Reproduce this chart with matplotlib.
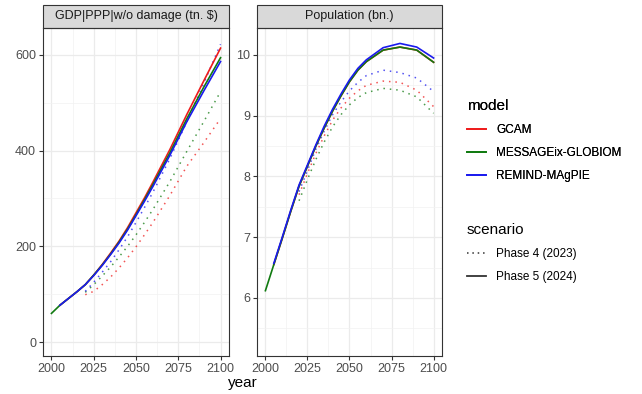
import matplotlib
matplotlib.use("Agg")
import matplotlib.pyplot as plt
from matplotlib.lines import Line2D
from matplotlib.ticker import MultipleLocator

plt.rcParams['font.family'] = ['Liberation Sans', 'DejaVu Sans']

# years of the model outputs
years_p5 = [2000, 2005, 2010, 2015, 2020, 2025, 2030, 2035, 2040, 2045, 2050, 2055, 2060, 2070, 2080, 2090, 2100]
years_p4 = [2020, 2025, 2030, 2035, 2040, 2045, 2050, 2055, 2060, 2070, 2080, 2090, 2100]

# GDP|PPP w/o damage (tn. $), phase 5 (2024)
gdp_gcam_p5 = [None, 77, 91, 105, 120, 140, 162, 186, 211, 239, 270, 301, 334, 402, 475, 545, 614]
gdp_message_p5 = [60, 77, 91, 105, 120, 140, 161, 184, 209, 236, 266, 297, 329, 395, 466, 532, 594]
gdp_remind_p5 = [None, 77, 91, 105, 120, 139, 160, 183, 207, 234, 264, 294, 325, 390, 460, 524, 586]
# phase 4 (2023)
gdp_gcam_p4 = [99, 106, 120, 136, 155, 176, 199, 224, 250, 306, 367, 416, 467]
gdp_message_p4 = [104, 120, 138, 157, 178, 200, 224, 250, 277, 335, 398, 460, 523]
gdp_remind_p4 = [106, 125, 146, 168, 193, 220, 250, 281, 313, 383, 460, 540, 622]

# Population (bn.), phase 5 (2024)
pop_gcam_p5 = [None, 6.55, 6.98, 7.42, 7.84, 8.17, 8.5, 8.8, 9.08, 9.33, 9.56, 9.75, 9.89, 10.08, 10.13, 10.08, 9.88]
pop_message_p5 = [6.12, 6.55, 6.98, 7.42, 7.84, 8.17, 8.5, 8.8, 9.08, 9.33, 9.56, 9.75, 9.89, 10.08, 10.13, 10.08, 9.88]
pop_remind_p5 = [None, 6.57, 7.0, 7.44, 7.86, 8.19, 8.52, 8.83, 9.11, 9.36, 9.59, 9.78, 9.92, 10.12, 10.19, 10.13, 9.95]
# phase 4 (2023)
pop_gcam_p4 = [7.7, 8.05, 8.38, 8.67, 8.93, 9.13, 9.29, 9.41, 9.5, 9.57, 9.55, 9.42, 9.15]
pop_message_p4 = [7.6, 7.95, 8.28, 8.57, 8.82, 9.02, 9.18, 9.3, 9.38, 9.45, 9.42, 9.31, 9.04]
pop_remind_p4 = [7.75, 8.1, 8.45, 8.75, 9.02, 9.23, 9.41, 9.55, 9.66, 9.75, 9.71, 9.62, 9.40]

models = ["GCAM", "MESSAGEix-GLOBIOM", "REMIND-MAgPIE"]
colors = ["#ee1c1c", "#107a10", "#1a1aee"]
scenarios = ["Phase 4 (2023)", "Phase 5 (2024)"]


def drop_none(xs, ys):
    pairs = [(x, y) for x, y in zip(xs, ys) if y is not None]
    return [p[0] for p in pairs], [p[1] for p in pairs]


def style_panel(ax, title, major, minor, ylim):
    ax.set_xlim(1995, 2105)
    ax.set_ylim(*ylim)
    ax.xaxis.set_major_locator(MultipleLocator(25))
    ax.xaxis.set_minor_locator(MultipleLocator(12.5))
    ax.yaxis.set_major_locator(MultipleLocator(major))
    ax.yaxis.set_minor_locator(MultipleLocator(minor))
    ax.grid(which="major", color="#ebebeb", lw=0.9)
    ax.grid(which="minor", color="#f2f2f2", lw=0.5)
    ax.set_axisbelow(True)
    for s in ax.spines.values():
        s.set_color("#333333")
        s.set_linewidth(0.8)
    ax.tick_params(which="major", length=3, width=0.8, color="#333333",
                   labelsize=9, labelcolor="#4d4d4d", pad=2)
    ax.tick_params(which="minor", length=0)
    # facet strip
    strip = plt.Rectangle((0, 1.0), 1, 0.07, transform=ax.transAxes, fc="#d9d9d9",
                          ec="#333333", lw=0.8, clip_on=False)
    ax.add_patch(strip)
    ax.text(0.5, 1.036, title, transform=ax.transAxes, ha="center", va="center",
            fontsize=9, color="#1a1a1a")


fig = plt.figure(figsize=(6.42, 3.94), dpi=100)
ax1 = fig.add_axes([43 / 642, 1 - 356 / 394, 186 / 642, 328 / 394])
ax2 = fig.add_axes([257 / 642, 1 - 356 / 394, 185 / 642, 328 / 394])

gdp_p5 = [gdp_gcam_p5, gdp_message_p5, gdp_remind_p5]
gdp_p4 = [gdp_gcam_p4, gdp_message_p4, gdp_remind_p4]
pop_p5 = [pop_gcam_p5, pop_message_p5, pop_remind_p5]
pop_p4 = [pop_gcam_p4, pop_message_p4, pop_remind_p4]

for i, c in enumerate(colors):
    ax1.plot(years_p4, gdp_p4[i], color=c, lw=1.1, ls=(0, (1, 3.2)), alpha=0.75)
    ax2.plot(years_p4, pop_p4[i], color=c, lw=1.1, ls=(0, (1, 3.2)), alpha=0.75)
for i, c in enumerate(colors):
    x, y = drop_none(years_p5, gdp_p5[i])
    ax1.plot(x, y, color=c, lw=1.2)
    x, y = drop_none(years_p5, pop_p5[i])
    ax2.plot(x, y, color=c, lw=1.2)

style_panel(ax1, "GDP|PPP|w/o damage (tn. $)", 200, 100, (-29, 656))
style_panel(ax2, "Population (bn.)", 1, 0.5, (5.045, 10.444))

fig.text(242.5 / 642, 1 - 383 / 394, "year", ha="center", va="center", fontsize=11)

# legends
h_model = [Line2D([], [], color=c, lw=1.3) for c in colors]
leg1 = fig.legend(h_model, models, title="model", loc="upper left",
                  bbox_to_anchor=(456 / 642, 1 - 88 / 394), frameon=False,
                  fontsize=8.5, title_fontsize=11, handlelength=1.6,
                  handletextpad=0.9, labelspacing=0.95, alignment="left")
h_scen = [Line2D([], [], color="#333333", lw=1.1, ls=(0, (1, 2.5))),
          Line2D([], [], color="#333333", lw=1.3)]
leg2 = fig.legend(h_scen, scenarios, title="scenario", loc="upper left",
                  bbox_to_anchor=(456 / 642, 1 - 212 / 394), frameon=False,
                  fontsize=8.5, title_fontsize=11, handlelength=1.6,
                  handletextpad=0.9, labelspacing=0.95, alignment="left")
fig.add_artist(leg1)

plt.savefig("out.png", dpi=100)
